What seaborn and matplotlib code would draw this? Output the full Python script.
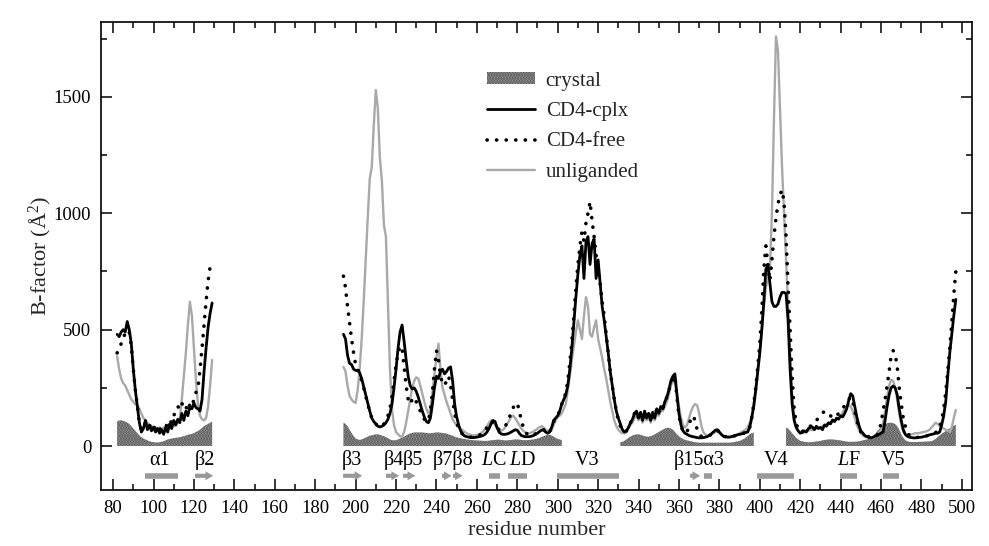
import numpy as np
import pandas as pd
import seaborn as sns
import matplotlib
matplotlib.use("Agg")
import matplotlib.pyplot as plt
from matplotlib.patches import Patch
from matplotlib.lines import Line2D
from matplotlib.ticker import MultipleLocator

# ---------------- data (B-factors, A^2) ----------------
seg_a_start, seg_b_start = 82, 194

cplx_a = [480, 470, 490, 500, 490, 535, 500, 440, 330, 240,
          170, 100, 60, 75, 110, 70, 90, 65, 80, 60,
          75, 55, 70, 50, 80, 60, 95, 75, 110, 90,
          115, 100, 140, 110, 150, 130, 170, 160, 185, 165,
          160, 150, 200, 320, 420, 510, 570, 615]
free_a = [400, 420, 440, 470, 480, 520, 490, 430, 330, 240,
          170, 100, 70, 80, 100, 80, 90, 70, 85, 70,
          80, 70, 80, 75, 90, 85, 110, 100, 130, 150,
          170, 160, 185, 160, 170, 150, 180, 170, 200, 230,
          250, 330, 420, 520, 620, 710, 770, 785]
unl_a = [385, 330, 290, 270, 260, 240, 220, 200, 190, 180,
         175, 160, 140, 120, 110, 100, 90, 85, 80, 80,
         75, 80, 70, 80, 75, 85, 80, 95, 85, 90,
         100, 120, 200, 300, 400, 520, 620, 560, 420, 280,
         180, 130, 115, 110, 120, 170, 260, 370]
cryst_a = [105, 110, 110, 108, 105, 100, 95, 85, 75, 65,
           55, 45, 38, 32, 28, 24, 20, 18, 16, 15,
           15, 16, 18, 20, 24, 28, 30, 32, 34, 35,
           36, 38, 40, 42, 45, 48, 50, 52, 55, 60,
           65, 70, 78, 85, 90, 95, 100, 105]

cplx_b = [480, 460, 390, 355, 350, 330, 325, 325, 315, 290,
          255, 220, 185, 150, 120, 105, 95, 85, 82, 85,
          90, 100, 115, 140, 180, 250, 330, 420, 490, 520,
          450, 370, 300, 260, 245, 250, 235, 210, 180, 150,
          125, 105, 100, 120, 180, 250, 300, 290, 320, 330,
          310, 320, 335, 340, 280, 180, 125, 90, 65, 50,
          43, 40, 38, 37, 36, 37, 38, 40, 42, 45,
          50, 60, 75, 95, 110, 105, 80, 60, 52, 50,
          50, 52, 55, 60, 65, 70, 68, 55, 45, 42,
          40, 40, 40, 42, 45, 50, 55, 62, 68, 70,
          60, 55, 60, 80, 110, 120, 130, 150, 180, 200,
          220, 260, 330, 420, 530, 640, 740, 820, 860, 720,
          880, 900, 780, 870, 890, 720, 800, 700, 600, 540,
          470, 400, 320, 260, 200, 150, 120, 95, 70, 60,
          65, 80, 100, 115, 140, 150, 120, 145, 110, 150,
          120, 140, 110, 145, 120, 160, 140, 170, 160, 190,
          210, 240, 280, 300, 310, 220, 140, 90, 65, 55,
          50, 45, 42, 40, 38, 36, 35, 35, 36, 38,
          40, 45, 52, 60, 68, 70, 60, 50, 42, 40,
          38, 38, 40, 42, 45, 48, 50, 52, 55, 58,
          60, 80, 120, 170, 240, 320, 400, 500, 620, 760,
          780, 700, 620, 600, 600, 610, 640, 660, 660, 655,
          540, 330, 180, 110, 80, 65, 55, 58, 65, 60,
          75, 80, 82, 70, 85, 75, 80, 70, 90, 85,
          100, 95, 112, 105, 120, 115, 130, 125, 140, 160,
          195, 225, 215, 170, 125, 90, 65, 55, 45, 40,
          37, 35, 38, 42, 45, 50, 55, 60, 110, 170,
          220, 250, 258, 250, 220, 160, 110, 70, 50, 42,
          38, 36, 35, 35, 36, 37, 38, 40, 42, 45,
          48, 50, 52, 55, 55, 60, 90, 130, 190, 300,
          400, 480, 560, 630]
free_b = [730, 680, 600, 530, 460, 400, 350, 330, 310, 280,
          250, 215, 180, 150, 120, 105, 95, 85, 82, 85,
          95, 110, 130, 160, 210, 280, 350, 400, 430, 420,
          340, 260, 200, 180, 200, 210, 190, 170, 150, 130,
          115, 105, 110, 150, 230, 330, 410, 370, 300, 270,
          260, 280, 300, 260, 200, 140, 100, 75, 60, 50,
          45, 42, 40, 38, 38, 40, 42, 45, 50, 55,
          65, 80, 95, 105, 100, 90, 80, 70, 70, 75,
          85, 100, 120, 145, 165, 180, 185, 150, 110, 80,
          60, 50, 45, 45, 48, 52, 58, 63, 68, 70,
          60, 55, 60, 80, 105, 120, 135, 150, 180, 200,
          230, 280, 360, 450, 560, 680, 780, 860, 920, 880,
          960, 1000, 1050, 970, 900, 820, 750, 700, 620, 560,
          480, 400, 320, 260, 200, 150, 110, 85, 70, 60,
          65, 80, 100, 115, 140, 150, 120, 145, 110, 150,
          120, 140, 110, 145, 120, 160, 140, 170, 160, 190,
          210, 240, 270, 290, 300, 210, 130, 85, 65, 55,
          60, 90, 120, 130, 110, 70, 50, 42, 40, 40,
          42, 45, 50, 58, 65, 68, 60, 50, 42, 40,
          38, 38, 40, 42, 45, 48, 50, 52, 55, 58,
          60, 80, 120, 180, 250, 340, 440, 580, 760, 860,
          780, 710, 800, 900, 980, 1040, 1080, 1100, 1050, 900,
          680, 500, 300, 160, 100, 70, 60, 62, 70, 72,
          80, 85, 90, 100, 110, 120, 130, 140, 150, 140,
          135, 130, 120, 125, 130, 140, 150, 160, 175, 190,
          200, 210, 190, 150, 110, 80, 60, 50, 45, 42,
          40, 40, 42, 45, 45, 60, 100, 150, 200, 260,
          320, 390, 410, 395, 340, 250, 180, 120, 85, 60,
          45, 40, 38, 37, 37, 38, 39, 40, 42, 45,
          48, 50, 52, 58, 65, 80, 110, 160, 230, 320,
          420, 530, 650, 750]
unl_b = [340, 320, 260, 215, 200, 190, 185, 240, 330, 460,
         620, 800, 980, 1150, 1200, 1380, 1530, 1450, 1240, 1140,
         950, 900, 620, 330, 160, 90, 60, 50, 42, 40,
         60, 100, 150, 200, 250, 280, 295, 290, 260, 225,
         190, 160, 140, 160, 230, 310, 380, 440, 330, 250,
         220, 190, 165, 140, 115, 100, 90, 80, 72, 68,
         60, 55, 50, 48, 46, 46, 48, 50, 55, 62,
         72, 85, 100, 110, 105, 90, 75, 65, 65, 70,
         80, 95, 110, 125, 130, 120, 105, 90, 75, 65,
         58, 55, 55, 58, 62, 68, 75, 80, 85, 80,
         70, 65, 60, 70, 90, 110, 125, 130, 140, 160,
         180, 240, 300, 370, 430, 490, 540, 500, 460, 560,
         640, 600, 480, 470, 510, 540, 460, 420, 380, 330,
         290, 240, 190, 150, 110, 85, 70, 60, 55, 55,
         60, 75, 90, 100, 120, 130, 110, 125, 100, 130,
         110, 125, 100, 130, 110, 140, 130, 150, 150, 170,
         190, 220, 260, 280, 270, 230, 170, 120, 90, 80,
         90, 120, 150, 170, 180, 175, 140, 90, 60, 50,
         45, 45, 50, 55, 60, 62, 55, 48, 42, 40,
         40, 40, 42, 45, 48, 50, 55, 60, 65, 70,
         80, 100, 130, 180, 250, 330, 400, 500, 600, 680,
         720, 760, 1000, 1400, 1760, 1700, 1450, 1200, 1000, 800,
         600, 400, 220, 120, 80, 65, 60, 55, 58, 60,
         65, 70, 68, 72, 75, 80, 78, 85, 90, 95,
         95, 100, 105, 110, 115, 120, 130, 145, 160, 170,
         175, 170, 150, 120, 90, 70, 55, 45, 40, 38,
         36, 35, 36, 40, 45, 55, 70, 100, 150, 210,
         260, 285, 280, 250, 200, 140, 90, 60, 50, 48,
         48, 50, 52, 55, 55, 56, 58, 60, 62, 65,
         70, 80, 90, 100, 95, 85, 80, 75, 70, 65,
         60, 80, 120, 155]

cryst_b1_start, cryst_b2_start, cryst_b3_start = 194, 331, 413
cryst_b1 = [100, 95, 85, 70, 55, 42, 32, 28, 26, 28,
            32, 36, 40, 44, 46, 48, 50, 50, 48, 45,
            42, 38, 33, 28, 25, 24, 25, 28, 32, 36,
            40, 45, 50, 54, 56, 58, 58, 58, 58, 58,
            57, 56, 55, 55, 56, 57, 58, 58, 57, 56,
            55, 53, 50, 47, 44, 40, 37, 35, 33, 31,
            30, 28, 27, 26, 25, 24, 24, 23, 23, 22,
            22, 22, 23, 24, 25, 26, 27, 27, 26, 25,
            24, 24, 25, 26, 27, 28, 28, 27, 26, 25,
            25, 25, 26, 27, 28, 30, 32, 35, 38, 42,
            45, 48, 48, 45, 40, 35, 30, 28, 25]
cryst_b2 = [15, 18, 22, 28, 35, 40, 45, 48, 50, 50,
            48, 45, 42, 40, 40, 42, 45, 50, 55, 60,
            65, 70, 75, 78, 78, 75, 70, 60, 50, 42,
            35, 30, 26, 24, 22, 20, 18, 16, 15, 14,
            14, 14, 14, 14, 14, 14, 14, 14, 14, 14,
            14, 14, 14, 14, 14, 15, 16, 18, 20, 22,
            25, 30, 35, 42, 50, 55, 58]
cryst_b3 = [80, 75, 65, 55, 45, 35, 28, 22, 20, 18,
            17, 16, 16, 17, 18, 19, 20, 22, 24, 26,
            27, 28, 28, 28, 27, 26, 25, 24, 22, 20,
            19, 18, 18, 18, 18, 19, 20, 22, 24, 26,
            28, 30, 35, 42, 52, 62, 72, 80, 88, 94,
            98, 100, 100, 98, 94, 85, 70, 50, 35, 25,
            20, 18, 17, 17, 17, 17, 18, 18, 18, 19,
            19, 20, 20, 25, 30, 38, 45, 52, 58, 64,
            70, 76, 82, 88, 90]

# secondary-structure annotations
ss_labels = ["α1", "β2", "β3", "β4", "β5", "β7β8", r"$\mathit{L}$C", r"$\mathit{L}$D",
             "V3", "β15α3", "V4", r"$\mathit{L}$F", "V5"]
ss_label_x = [103, 125.5, 198, 219, 228.5, 248, 268.5, 282.5, 314.5, 370, 408, 444, 466]
ss_elements = [  # (start, end, kind)
    (95.8, 112.2, "bar"), (120.5, 129.5, "arrow"), (193.8, 203.3, "arrow"),
    (215.0, 221.5, "arrow"), (223.5, 229.5, "arrow"), (242.8, 247.5, "arrow"),
    (248.2, 253.0, "arrow"), (266.0, 271.5, "bar"), (275.5, 285.0, "bar"),
    (299.7, 330.5, "bar"), (365.5, 370.5, "arrow"), (372.4, 376.4, "bar"),
    (398.7, 417.0, "bar"), (439.7, 448.0, "bar"), (461.0, 469.0, "bar")]

# ---------------- build tidy frame ----------------
rows = []
for name, a, b in [("CD4-cplx", cplx_a, cplx_b), ("CD4-free", free_a, free_b),
                   ("unliganded", unl_a, unl_b)]:
    for seg, start, vals in [("A", seg_a_start, a), ("B", seg_b_start, b)]:
        for i, v in enumerate(vals):
            rows.append((name, seg, start + i, v))
df = pd.DataFrame(rows, columns=["series", "seg", "res", "B"])

cryst_segments = [(seg_a_start, cryst_a), (cryst_b1_start, cryst_b1),
                  (cryst_b2_start, cryst_b2), (cryst_b3_start, cryst_b3)]

# ---------------- style ----------------
sns.set_theme(style="ticks")
plt.rcParams["font.family"] = ["Liberation Serif", "DejaVu Serif"]
plt.rcParams["mathtext.fontset"] = "custom"
plt.rcParams["mathtext.rm"] = "Liberation Serif"
plt.rcParams["mathtext.it"] = "Liberation Serif:italic"
plt.rcParams["hatch.linewidth"] = 1.6

fig = plt.figure(figsize=(9.89, 5.46), dpi=100)
ax = fig.add_axes([0.1021, 0.1026, 0.8807, 0.857])

cryst_face, cryst_hatch = "#a8a8a8", "#4a4a4a"
for start, vals in cryst_segments:
    xs = np.arange(start, start + len(vals))
    ax.fill_between(xs, 0, vals, facecolor=cryst_face, edgecolor=cryst_hatch,
                    hatch="......", linewidth=0, zorder=1)

dot_style = (0, (0.05, 2.6))
sns.lineplot(data=df[df.series == "unliganded"], x="res", y="B", units="seg",
             estimator=None, color="#a9a9a9", lw=1.7, ax=ax, legend=False, zorder=2)
sns.lineplot(data=df[df.series == "CD4-cplx"], x="res", y="B", units="seg",
             estimator=None, color="black", lw=2.0, ax=ax, legend=False, zorder=3)
sns.lineplot(data=df[df.series == "CD4-free"], x="res", y="B", units="seg",
             estimator=None, color="black", lw=2.6, ax=ax, legend=False, zorder=4,
             linestyle=dot_style, dash_capstyle="round")

# annotations
ann_color = "#999999"
for lab, lx in zip(ss_labels, ss_label_x):
    ax.text(lx, -62, lab, ha="center", va="center", fontsize=14.5, color="black")
for (s, e, kind) in ss_elements:
    if kind == "bar":
        ax.plot([s, e], [-128, -128], color=ann_color, lw=4, solid_capstyle="butt",
                zorder=2)
    else:
        ax.annotate("", xy=(e, -128), xytext=(s, -128),
                    arrowprops=dict(arrowstyle="simple,head_length=0.55,head_width=0.65,tail_width=0.3",
                                    color=ann_color, shrinkA=0, shrinkB=0,
                                    mutation_scale=10, lw=0))

ax.set_xlim(74, 505)
ax.set_ylim(-189, 1822)
ax.xaxis.set_major_locator(MultipleLocator(20))
ax.xaxis.set_minor_locator(MultipleLocator(10))
ax.yaxis.set_major_locator(MultipleLocator(500))
ax.yaxis.set_minor_locator(MultipleLocator(250))
ax.tick_params(which="both", direction="in", top=True, right=True, width=1.1,
               labelsize=13.5, color="black", labelcolor="black")
ax.tick_params(which="major", length=8, pad=7)
ax.tick_params(which="minor", length=4)
for sp in ax.spines.values():
    sp.set_linewidth(1.2)
    sp.set_color("black")

ax.set_xlabel("residue number", fontsize=16, labelpad=3)
ax.set_ylabel("B-factor (Å$^{2}$)", fontsize=16, labelpad=0)

handles = [Patch(facecolor=cryst_face, edgecolor=cryst_hatch, hatch="......", lw=0),
           Line2D([], [], color="black", lw=2.0),
           Line2D([], [], color="black", lw=2.6, linestyle=dot_style,
                  dash_capstyle="round"),
           Line2D([], [], color="#a9a9a9", lw=1.7)]
ax.legend(handles, ["crystal", "CD4-cplx", "CD4-free", "unliganded"],
          loc="upper left", bbox_to_anchor=(0.434, 0.912), frameon=False,
          fontsize=15, handlelength=2.3, handleheight=0.55, labelspacing=0.55,
          handletextpad=0.5, borderaxespad=0)

fig.savefig("out.png", dpi=100)
